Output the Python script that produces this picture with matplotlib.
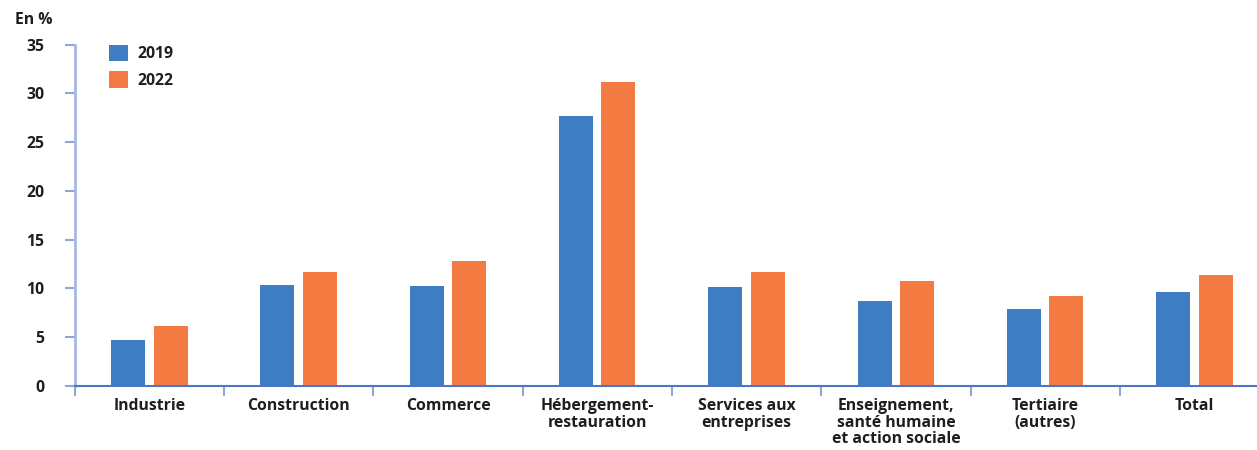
import matplotlib
matplotlib.use("Agg")
import matplotlib.pyplot as plt
import numpy as np

categories = ["Industrie", "Construction", "Commerce", "Hébergement-\nrestauration",
              "Services aux\nentreprises", "Enseignement,\nsanté humaine\net action sociale",
              "Tertiaire\n(autres)", "Total"]
values_2019 = [4.7, 10.4, 10.3, 27.7, 10.1, 8.7, 7.9, 9.6]
values_2022 = [6.2, 11.7, 12.8, 31.2, 11.7, 10.8, 9.2, 11.4]
series_labels = ["2019", "2022"]
y_ticks = [0, 5, 10, 15, 20, 25, 30, 35]

plt.rcParams['font.family'] = ['Open Sans', 'DejaVu Sans']

W, H = 1257, 450
fig = plt.figure(figsize=(W / 100, H / 100), dpi=100)
left, right, bottom, top = 74.7, 1257, 386, 44.5
ax = fig.add_axes([left / W, 1 - bottom / H, (right - left) / W, (bottom - top) / H])

blue = "#3e7dc2"
orange = "#f37a40"
text_col = "#1e1e1e"
fs = 11.3

x = np.arange(len(categories))
bw = 0.228
off = 0.142
ax.bar(x - off, values_2019, width=bw, color=blue, label=series_labels[0], zorder=2)
ax.bar(x + off, values_2022, width=bw, color=orange, label=series_labels[1], zorder=2)

ax.set_yticks(y_ticks)
ax.set_yticklabels([str(v) for v in y_ticks], fontsize=fs, fontweight='bold', color=text_col)
ax.tick_params(axis='y', direction='out', length=7, width=1.5, color="#8fa6da", pad=15)

ax.set_xticks(np.arange(len(categories) + 1) - 0.5)
ax.set_xticklabels([])
ax.set_xticks(x, minor=True)
ax.set_xticklabels(categories, minor=True, fontsize=fs, fontweight='bold', color=text_col,
                   linespacing=1.02, va='top')
ax.tick_params(axis='x', which='major', direction='out', length=7, width=1.5, color="#8fa6da")
ax.tick_params(axis='x', which='minor', length=0, pad=9)

per_px = 1 / 149.3
ax.set_xlim(-0.5, -0.5 + (right - left) * per_px)
ax.set_ylim(0, 35)

for s in ['top', 'right']:
    ax.spines[s].set_visible(False)
ax.spines['left'].set_color("#a6b7e2")
ax.spines['left'].set_linewidth(2)
ax.spines['bottom'].set_color("#4f75c6")
ax.spines['bottom'].set_linewidth(1.5)
ax.spines['bottom'].set_zorder(3)

fs_px = fs * 100 / 72
leg = ax.legend(loc='upper left', bbox_to_anchor=((109 - left) / (right - left), (bottom - 45) / (bottom - top)),
                frameon=False, prop={'size': fs, 'weight': 'bold'}, handlelength=19 / fs_px,
                handleheight=19 / fs_px, handletextpad=9 / fs_px, labelspacing=9 / fs_px,
                borderaxespad=0, borderpad=0)
for t in leg.get_texts():
    t.set_color(text_col)

fig.text(15 / W, 1 - 20 / H, "En %", fontsize=fs, fontweight='bold', color=text_col,
         ha='left', va='center')

fig.savefig("out.png", dpi=100)
